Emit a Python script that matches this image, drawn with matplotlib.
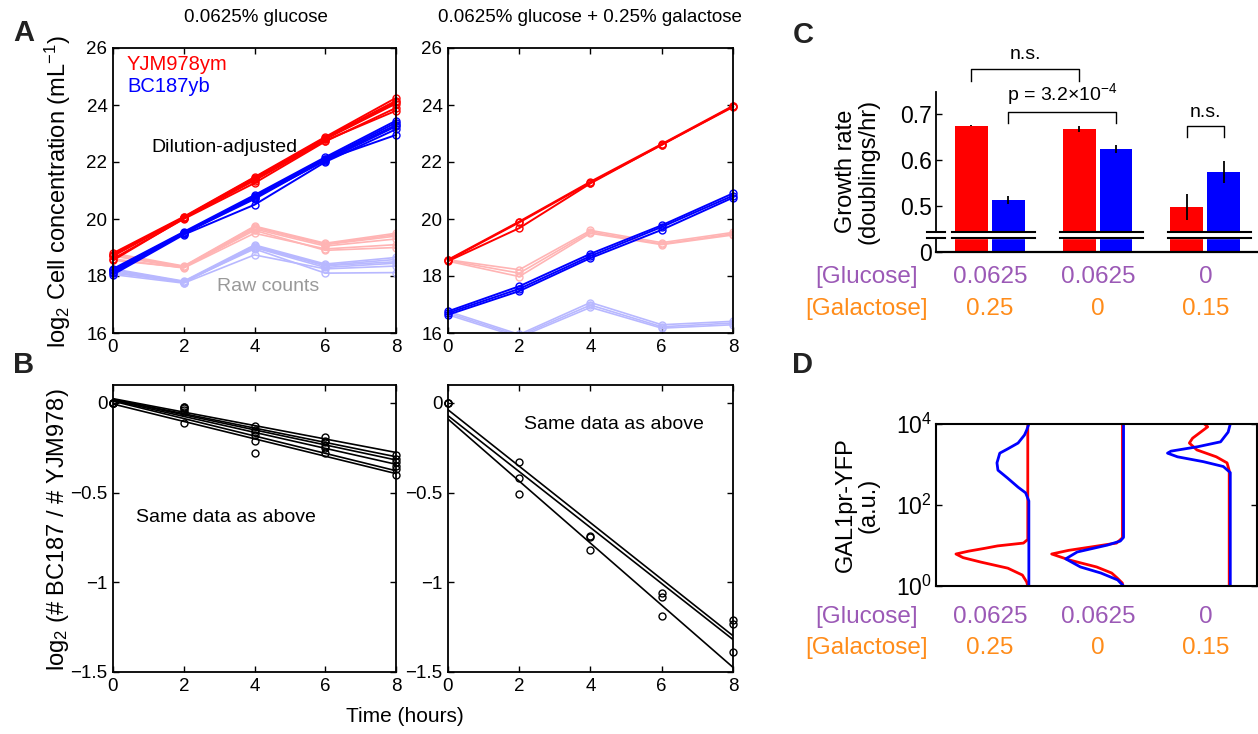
import numpy as np
import matplotlib.pyplot as plt
from matplotlib.ticker import NullLocator

plt.rcParams['font.family'] = ['Liberation Sans', 'DejaVu Sans']
plt.rcParams['mathtext.fontset'] = 'custom'
plt.rcParams['mathtext.rm'] = 'Liberation Sans'
plt.rcParams['mathtext.it'] = 'Liberation Sans:italic'
plt.rcParams['mathtext.bf'] = 'Liberation Sans:bold'

# ---------------- data ----------------
hours = [0, 2, 4, 6, 8]

# A left: 0.0625% glucose, log2 cells/mL
glu_ym_adj = [[18.80, 20.08, 21.47, 22.88, 24.25],
              [18.75, 20.05, 21.42, 22.85, 24.15],
              [18.72, 20.06, 21.45, 22.82, 24.10],
              [18.70, 20.04, 21.40, 22.80, 24.05],
              [18.60, 20.00, 21.26, 22.72, 23.90],
              [18.55, 20.02, 21.35, 22.75, 23.80]]
glu_yb_adj = [[18.25, 19.55, 20.84, 22.17, 23.45],
              [18.22, 19.52, 20.80, 22.12, 23.38],
              [18.20, 19.50, 20.78, 22.10, 23.30],
              [18.15, 19.48, 20.75, 22.05, 23.25],
              [18.05, 19.45, 20.50, 22.00, 23.15],
              [18.10, 19.50, 20.70, 22.08, 22.95]]
glu_ym_raw = [[18.80, 18.35, 19.75, 19.15, 19.50],
              [18.75, 18.33, 19.72, 19.12, 19.45],
              [18.72, 18.32, 19.70, 19.10, 19.40],
              [18.70, 18.30, 19.65, 19.05, 19.30],
              [18.60, 18.28, 19.50, 18.95, 19.10],
              [18.55, 18.30, 19.60, 18.90, 19.00]]
glu_yb_raw = [[18.25, 17.82, 19.09, 18.42, 18.65],
              [18.22, 17.80, 19.05, 18.38, 18.58],
              [18.20, 17.78, 19.03, 18.36, 18.50],
              [18.15, 17.77, 19.00, 18.30, 18.45],
              [18.05, 17.75, 18.74, 18.25, 18.35],
              [18.10, 17.80, 18.95, 18.10, 18.12]]

# A right: 0.0625% glucose + 0.25% galactose
gal_ym_adj = [[18.57, 19.91, 21.31, 22.63, 23.97],
              [18.55, 19.88, 21.28, 22.60, 23.95],
              [18.52, 19.68, 21.25, 22.61, 23.93]]
gal_yb_adj = [[16.76, 17.64, 18.78, 19.78, 20.90],
              [16.70, 17.55, 18.70, 19.72, 20.82],
              [16.64, 17.47, 18.63, 19.62, 20.75]]
gal_ym_raw = [[18.57, 18.22, 19.60, 19.17, 19.53],
              [18.55, 18.10, 19.55, 19.12, 19.48],
              [18.52, 17.98, 19.50, 19.10, 19.44]]
gal_yb_raw = [[16.76, 15.95, 17.07, 16.29, 16.41],
              [16.70, 15.90, 16.98, 16.22, 16.35],
              [16.64, 15.85, 16.90, 16.17, 16.29]]

# B: log2(#BC187 / #YJM978)
glu_ratio = [[0, -0.02, -0.13, -0.19, -0.29],
             [0, -0.03, -0.15, -0.21, -0.31],
             [0, -0.04, -0.16, -0.22, -0.33],
             [0, -0.05, -0.18, -0.24, -0.35],
             [0, -0.02, -0.28, -0.25, -0.37],
             [0, -0.11, -0.21, -0.28, -0.40]]
gal_ratio = [[0, -0.33, -0.74, -1.06, -1.21],
             [0, -0.42, -0.745, -1.08, -1.23],
             [0, -0.51, -0.82, -1.19, -1.39]]

# C: growth rates (doublings/hr)
glucose_lbl = ['0.0625', '0.0625', '0']
galactose_lbl = ['0.25', '0', '0.15']
rate_ym = [0.675, 0.667, 0.498]
rate_yb = [0.513, 0.624, 0.574]
err_ym = [0.001, 0.006, 0.028]
err_yb = [0.009, 0.008, 0.024]

# D: GAL1pr-YFP histograms (log10 YFP, relative density)
d1_ym_log = [0.0, 0.1, 0.27, 0.44, 0.59, 0.7, 0.79, 0.86, 0.93, 0.99, 1.06, 1.15, 4.0]
d1_ym_w = [0.0, 0.01, 0.05, 0.185, 0.435, 0.6, 0.667, 0.55, 0.4, 0.28, 0.04, 0.0, 0.0]
d1_yb_log = [0.0, 2.1, 2.3, 2.44, 2.67, 2.86, 3.04, 3.28, 3.38, 3.53, 3.73, 3.85, 4.0]
d1_yb_w = [0.0, 0.0, 0.03, 0.1, 0.2, 0.287, 0.296, 0.27, 0.2, 0.1, 0.04, 0.02, 0.0]
d2_ym_log = [0.0, 0.07, 0.2, 0.32, 0.47, 0.64, 0.79, 0.88, 0.96, 1.06, 1.19, 4.0]
d2_ym_w = [0.0, 0.0, 0.05, 0.1, 0.24, 0.49, 0.657, 0.5, 0.3, 0.055, 0.0, 0.0]
d2_yb_log = [0.0, 0.15, 0.32, 0.47, 0.67, 0.84, 1.01, 1.11, 1.2, 4.0]
d2_yb_w = [0.0, 0.055, 0.21, 0.4, 0.537, 0.43, 0.15, 0.03, 0.0, 0.0]
d3_ym_log = [0.0, 2.85, 3.04, 3.19, 3.36, 3.53, 3.65, 3.93, 4.0]
d3_ym_w = [0.0, 0.0, 0.02, 0.12, 0.3, 0.37, 0.34, 0.2, 0.23]
d3_yb_log = [0.0, 2.8, 2.95, 3.07, 3.19, 3.28, 3.33, 3.44, 3.56, 3.8, 4.0]
d3_yb_w = [0.0, 0.0, 0.065, 0.25, 0.49, 0.583, 0.55, 0.3, 0.09, 0.02, 0.0]

RED = '#ff0000'
BLUE = '#0000ff'
LRED = '#ffb4b4'
LBLUE = '#b8b8ff'
PURPLE = '#9b59b6'
ORANGE = '#ff8c1a'

W, H = 1258, 734
fig = plt.figure(figsize=(W / 100, H / 100), dpi=100)


def box(x0, y0, x1, y1):
    # pixel box -> figure fraction
    return [x0 / W, 1 - y1 / H, (x1 - x0) / W, (y1 - y0) / H]


def ftext(x, y, s, **kw):
    fig.text(x / W, 1 - y / H, s, ha='center', va='center', **kw)


def matlab_axes(ax, size=13.5):
    ax.tick_params(direction='in', top=True, right=True, labelsize=size,
                   length=4, width=1, pad=4)
    for sp in ax.spines.values():
        sp.set_linewidth(1.3)


# ---------------- panel A ----------------
for pos, adj_r, adj_b, raw_r, raw_b in [
        ((113, 48, 396, 333), glu_ym_adj, glu_yb_adj, glu_ym_raw, glu_yb_raw),
        ((448, 48, 733, 333), gal_ym_adj, gal_yb_adj, gal_ym_raw, gal_yb_raw)]:
    ax = fig.add_axes(box(*pos))
    for row in raw_r:
        ax.plot(hours, row, '-o', color=LRED, mfc='none', ms=5, lw=1.2, clip_on=True)
    for row in raw_b:
        ax.plot(hours, row, '-o', color=LBLUE, mfc='none', ms=5, lw=1.2, clip_on=True)
    for row in adj_r:
        ax.plot(hours, row, '-o', color=RED, mfc='none', ms=5, lw=1.4, clip_on=False)
    for row in adj_b:
        ax.plot(hours, row, '-o', color=BLUE, mfc='none', ms=5, lw=1.4, clip_on=False)
    ax.set_xlim(0, 8)
    ax.set_ylim(16, 26)
    ax.set_xticks(hours)
    ax.set_yticks(range(16, 27, 2))
    matlab_axes(ax)

fig.text(127 / W, 1 - 64 / H, 'YJM978ym', color=RED, fontsize=14.5, va='center')
fig.text(127 / W, 1 - 86 / H, 'BC187yb', color=BLUE, fontsize=14.5, va='center')
ftext(224, 147, 'Dilution-adjusted', fontsize=14)
ftext(268, 287, 'Raw counts', fontsize=14, color='#999999')
ftext(256, 17, '0.0625% glucose', fontsize=13.5)
ftext(590, 17, '0.0625% glucose + 0.25% galactose', fontsize=13.5)
ftext(58, 192, 'log$_2$ Cell concentration (mL$^{-1}$)', fontsize=17, rotation=90)

# ---------------- panel B ----------------
for pos, ratios in [((113, 385, 396, 672), glu_ratio),
                    ((448, 385, 733, 672), gal_ratio)]:
    ax = fig.add_axes(box(*pos))
    t = np.array(hours)
    for row in ratios:
        k, b = np.polyfit(t, row, 1)
        ax.plot([0, 8], [b, b + 8 * k], color='k', lw=1.2)
        ax.plot(hours, row, 'o', color='k', mfc='none', ms=5, mew=1, clip_on=False)
    ax.set_xlim(0, 8)
    ax.set_ylim(-1.5, 0.1)
    ax.set_xticks(hours)
    ax.set_yticks([-1.5, -1, -0.5, 0])
    ax.set_yticklabels(['\u22121.5', '\u22121', '\u22120.5', '0'])
    matlab_axes(ax)

ftext(226, 518, 'Same data as above', fontsize=14)
ftext(614, 425, 'Same data as above', fontsize=14)
ftext(58, 530, 'log$_2$ (# BC187 / # YJM978)', fontsize=17, rotation=90)
ftext(405, 717, 'Time (hours)', fontsize=15)

# ---------------- panel C ----------------
zero_pos = 0.4          # where "0" sits on the broken axis
brk_lo, brk_hi = 0.4305, 0.4435
groups = np.arange(1, 4)
off, bw = 0.171, 0.306

axc = fig.add_axes(box(936, 92, 1257, 252))
axc.bar(groups - off, np.array(rate_ym) - zero_pos, bottom=zero_pos, width=bw, color=RED)
axc.bar(groups + off, np.array(rate_yb) - zero_pos, bottom=zero_pos, width=bw, color=BLUE)
axc.errorbar(groups - off, rate_ym, yerr=err_ym, fmt='none', ecolor='k', elinewidth=1.3, capsize=0)
axc.errorbar(groups + off, rate_yb, yerr=err_yb, fmt='none', ecolor='k', elinewidth=1.3, capsize=0)
for g in groups:
    axc.fill_between([g - 0.35, g + 0.42], brk_lo, brk_hi, color='white', zorder=3)
    for yb in (brk_lo, brk_hi):
        axc.plot([g - 0.35, g + 0.42], [yb, yb], color='k', lw=1.5, zorder=4)
axc.set_xlim(0.5, 3.48)
axc.set_ylim(zero_pos, 0.748)
axc.set_yticks([zero_pos, 0.5, 0.6, 0.7])
axc.set_yticklabels(['0', '0.5', '0.6', '0.7'])
axc.set_xticks([])
axc.tick_params(direction='in', labelsize=16.5, length=4, width=1, pad=3)
for s in ('top', 'right', 'left'):
    axc.spines[s].set_visible(False)
axc.spines['bottom'].set_linewidth(1.6)
ytr = axc.get_yaxis_transform()
axc.plot([0, 0], [zero_pos, brk_lo], color='k', lw=1.3, transform=ytr, clip_on=False)
axc.plot([0, 0], [brk_hi, 0.748], color='k', lw=1.3, transform=ytr, clip_on=False)
for yb in (brk_lo, brk_hi):
    axc.plot([-0.028, 0.028], [yb, yb], color='k', lw=1.5, transform=ytr, clip_on=False)


# significance brackets
def bracket(x1, x2, ylow, ytop, label):
    axc.plot([x1, x1, x2, x2], [ylow, ytop, ytop, ylow], color='k', lw=1, clip_on=False)
    axc.text((x1 + x2) / 2, ytop + 0.012, label, ha='center', va='bottom', fontsize=14)


bracket(1 - off, 2 - off, 0.772, 0.798, 'n.s.')
bracket(1 + off, 2 + off, 0.680, 0.704, 'p = 3.2\u00d710$^{-4}$')
bracket(3 - off, 3 + off, 0.650, 0.674, 'n.s.')

ftext(857, 171, 'Growth rate\n(doublings/hr)', fontsize=17, rotation=90, linespacing=1.05)

# ---------------- panel D ----------------
axd = fig.add_axes(box(936, 424, 1257, 586))
base = [1.352, 2.231, 3.222]
for b, (lr, wr), (lb, wb) in zip(base,
                                 [(d1_ym_log, d1_ym_w), (d2_ym_log, d2_ym_w), (d3_ym_log, d3_ym_w)],
                                 [(d1_yb_log, d1_yb_w), (d2_yb_log, d2_yb_w), (d3_yb_log, d3_yb_w)]):
    axd.plot(b - np.array(wr), 10 ** np.array(lr), color=RED, lw=2)
    axd.plot(b + 0.01 - np.array(wb), 10 ** np.array(lb), color=BLUE, lw=2)
axd.set_yscale('log')
axd.set_ylim(1, 1e4)
axd.set_xlim(0.5, 3.48)
axd.set_xticks([])
axd.set_yticks([1, 100, 10000])
axd.set_yticklabels(['10$^0$', '10$^2$', '10$^4$'])
axd.yaxis.set_minor_locator(NullLocator())
axd.tick_params(direction='in', right=True, labelsize=16.5, length=4, width=1, pad=3)
for sp in axd.spines.values():
    sp.set_linewidth(1.5)
ftext(857, 505, 'GAL1pr-YFP\n(a.u.)', fontsize=17, rotation=90, linespacing=1.05)

# condition labels under C and D
gx = [990, 1098, 1206]
for yg, yl in [(277, 309), (617, 648)]:
    ftext(867, yg, '[Glucose]', fontsize=17.5, color=PURPLE)
    ftext(867, yl, '[Galactose]', fontsize=17.5, color=ORANGE)
    for x, g1, g2 in zip(gx, glucose_lbl, galactose_lbl):
        ftext(x, yg, g1, fontsize=17.5, color=PURPLE)
        ftext(x, yl, g2, fontsize=17.5, color=ORANGE)

# panel letters
for x, y, s in [(24, 33, 'A'), (24, 365, 'B'), (803, 35, 'C'), (803, 365, 'D')]:
    ftext(x, y, s, fontsize=21, fontweight='bold', color='#222222')

fig.savefig('out.png', dpi=100)
